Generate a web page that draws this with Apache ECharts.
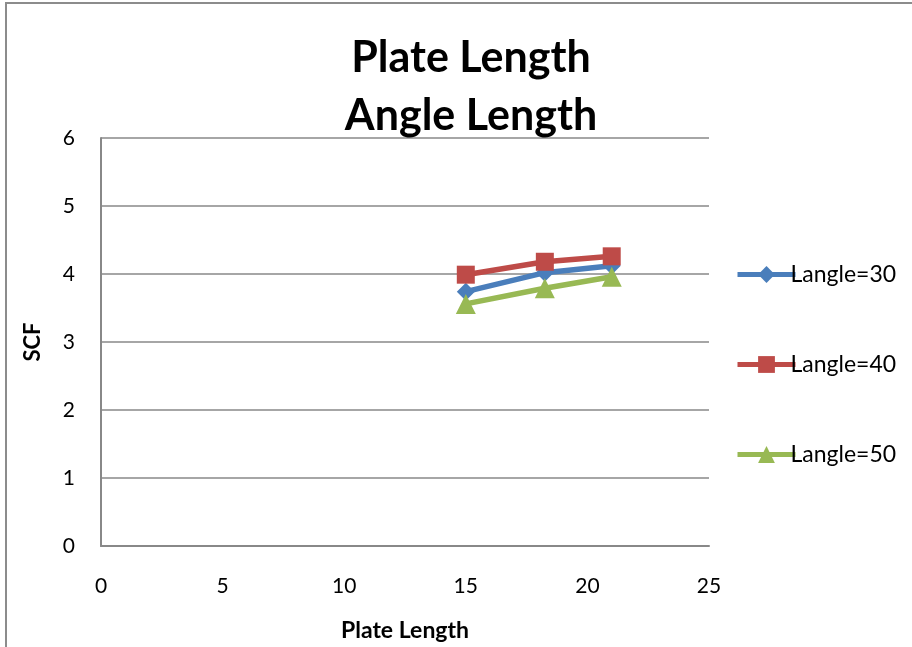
<!DOCTYPE html>
<html>
<head>
<meta charset="utf-8">
<script src="https://cdn.jsdelivr.net/npm/echarts@6/dist/echarts.min.js"></script>
<style>
  html, body { margin: 0; padding: 0; background: #fff; overflow: hidden; }
  #chart { width: 912px; height: 647px; }
</style>
</head>
<body>
<div id="chart"></div>
<script>
// Plate length values (x) and SCF results for each angle length
const plateLength = [15, 18.25, 21];
const scfLangle30 = [3.74, 4.02, 4.12];
const scfLangle40 = [3.99, 4.18, 4.26];
const scfLangle50 = [3.56, 3.79, 3.96];
const seriesNames = ['Langle=30', 'Langle=40', 'Langle=50'];

const FONT = 'Lato, "Open Sans", sans-serif';

function pairs(ys) {
  return plateLength.map((x, i) => [x, ys[i]]);
}

const chart = echarts.init(document.getElementById('chart'), null, {
  renderer: 'canvas', width: 912, height: 647
});

chart.setOption({
  backgroundColor: '#ffffff',
  animation: false,
  title: {
    text: 'Plate Length\nAngle Length',
    left: 466,
    textAlign: 'center',
    top: 24,
    textStyle: {
      fontFamily: FONT,
      fontWeight: 'bold',
      fontSize: 43,
      lineHeight: 58,
      color: '#000'
    }
  },
  graphic: [{
    type: 'rect',
    shape: { x: 6, y: 3, width: 960, height: 700 },
    style: { fill: 'none', stroke: '#8c8c8c', lineWidth: 2 },
    silent: true,
    z: -1
  }],
  grid: {
    left: 101, right: 203, top: 138, bottom: 101,
    containLabel: false,
    outerBoundsMode: 'none'
  },
  xAxis: {
    type: 'value',
    min: 0, max: 25, interval: 5,
    name: 'Plate Length',
    nameLocation: 'middle',
    nameGap: 73,
    nameTextStyle: { fontFamily: FONT, fontWeight: 'bold', fontSize: 23, color: '#000' },
    axisLine: { show: true, lineStyle: { color: '#888', width: 2 } },
    axisTick: { show: false },
    axisLabel: { fontFamily: FONT, fontSize: 21, color: '#000', margin: 30 },
    splitLine: { show: false }
  },
  yAxis: {
    type: 'value',
    min: 0, max: 6, interval: 1,
    name: 'SCF',
    nameLocation: 'middle',
    nameGap: 57,
    nameTextStyle: { fontFamily: FONT, fontWeight: 'bold', fontSize: 22, color: '#000' },
    axisLine: { show: true, lineStyle: { color: '#888', width: 2 } },
    axisTick: { show: false },
    axisLabel: { fontFamily: FONT, fontSize: 21, color: '#000', margin: 26 },
    splitLine: { show: true, lineStyle: { color: '#888', width: 1.5 } }
  },
  legend: {
    orient: 'vertical',
    left: 730,
    top: 258,
    itemGap: 67,
    itemWidth: 58,
    itemHeight: 21,
    lineStyle: { width: 5 },
    textStyle: { fontFamily: FONT, fontSize: 23, color: '#000', padding: [0, 0, 0, -10] },
    data: seriesNames
  },
  series: [
    {
      name: seriesNames[0],
      type: 'line',
      data: pairs(scfLangle30),
      symbol: 'diamond',
      symbolSize: 18,
      lineStyle: { color: '#4A7EBB', width: 5.5 },
      itemStyle: { color: '#4A7EBB' },
      z: 2
    },
    {
      name: seriesNames[1],
      type: 'line',
      data: pairs(scfLangle40),
      symbol: 'rect',
      symbolSize: 18,
      lineStyle: { color: '#BE4B48', width: 5.5 },
      itemStyle: { color: '#BE4B48' },
      z: 3
    },
    {
      name: seriesNames[2],
      type: 'line',
      data: pairs(scfLangle50),
      symbol: 'triangle',
      symbolSize: 20,
      lineStyle: { color: '#98B954', width: 5.5 },
      itemStyle: { color: '#98B954' },
      z: 4
    }
  ]
});
</script>
</body>
</html>
